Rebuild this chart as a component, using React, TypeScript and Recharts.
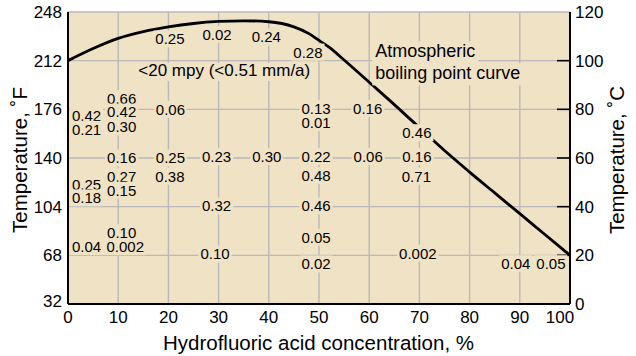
import React from "react";
import { ComposedChart, CartesianGrid, XAxis, YAxis, Line, Scatter } from "recharts";

const FONT = '"Liberation Sans", Arial, Helvetica, sans-serif';
const PLOT_BG = "#F0E2C5";
const GRID = "#B9B9B9";
const INK = "#000000";

// Axis ticks
const concentrationTicks = [0, 10, 20, 30, 40, 50, 60, 70, 80, 90, 100];
const fahrenheitTicks = [32, 68, 104, 140, 176, 212, 248];
const celsiusTicks = [0, 20, 40, 60, 80, 100, 120];

// Atmospheric boiling point curve: HF concentration (%) vs temperature (°F)
const boilingConc = [0, 5, 10, 15, 20, 25, 30, 35, 40, 45, 48, 50, 52, 55, 60, 65, 70, 75, 80, 85, 90, 95, 100];
const boilingTempF = [212, 221, 228.5, 233.5, 237, 239.5, 241, 241.5, 240.8, 237, 232, 227, 222, 212.5, 196, 179.5, 162.5, 145.5, 129.6, 114.2, 98.8, 83.4, 68];

// Corrosion rates (mm/a) at each test condition
const rateValues = [
  "0.25", "0.02", "0.24", "0.28",
  "0.42", "0.21", "0.66", "0.42", "0.30", "0.06", "0.13", "0.01", "0.16", "0.46",
  "0.16", "0.25", "0.23", "0.30", "0.22", "0.06", "0.16",
  "0.27", "0.38", "0.48", "0.71", "0.25", "0.18", "0.15",
  "0.32", "0.46", "0.05", "0.02", "0.10", "0.04", "0.002", "0.10", "0.002", "0.04", "0.05",
];
const rateConc = [
  20.3, 29.7, 39.5, 47.8,
  3.7, 3.7, 10.7, 10.7, 10.7, 20.4, 49.4, 49.4, 59.7, 69.5,
  10.7, 20.4, 29.6, 39.6, 49.4, 59.8, 69.5,
  10.7, 20.3, 49.4, 69.4, 3.7, 3.7, 10.7,
  29.6, 49.4, 49.4, 49.4, 10.7, 3.7, 11.4, 29.3, 69.7, 89.2, 96.2,
];
const rateTempF = [
  228, 231.5, 229.5, 218.3,
  171.5, 161.2, 184, 174, 163, 176, 176.5, 166.1, 176.5, 158.7,
  140, 140, 141, 141, 141, 141, 141,
  126.2, 126.5, 127, 126.4, 120.2, 110.5, 116.2,
  104.5, 104.5, 81.4, 61.6, 84.8, 74.4, 74.4, 69, 69.5, 61.8, 61.8,
];

// Region note and curve caption (left-aligned, placed at baseline)
const regionNote = "<20 mpy (<0.51 mm/a)";
const regionNoteConc = 14.0;
const regionNoteTempF = 200.7;
const curveNoteLines = ["Atmospheric", "boiling point curve"];
const curveNoteConc = 61.2;
const curveNoteTempF = [214.5, 198.2];

// Approximate Arial/Liberation Sans advance widths (per 1000 em)
const W: Record<string, number> = {
  "0": 556, "1": 556, "2": 556, "3": 556, "4": 556, "5": 556, "6": 556, "7": 556, "8": 556, "9": 556,
  ".": 278, " ": 278, "<": 584, "(": 333, ")": 333, "/": 278, ",": 278, "%": 889,
  a: 556, b: 556, c: 500, d: 556, e: 556, f: 278, g: 556, h: 556, i: 222, l: 222, m: 833, n: 556,
  o: 556, p: 556, r: 333, s: 500, t: 278, u: 556, v: 500, y: 500, A: 667,
};
const textWidth = (s: string, size: number) =>
  (s.split("").reduce((acc, ch) => acc + (W[ch] ?? 556), 0) / 1000) * size;

const RateLabel = (props: any) => {
  const { cx, cy, payload } = props;
  if (cx == null || cy == null) return null;
  const size = 15;
  const w = textWidth(payload.text, size);
  return (
    <g>
      <rect x={cx - w / 2 - 2} y={cy - 8.5} width={w + 4} height={17} fill={PLOT_BG} />
      <text x={cx} y={cy} dy="0.36em" textAnchor="middle" fontSize={size} fontFamily={FONT} fill={INK}>
        {payload.text}
      </text>
    </g>
  );
};

const RegionLabel = (props: any) => {
  const { cx, cy, payload } = props;
  if (cx == null || cy == null) return null;
  const size = 17;
  const w = textWidth(payload.text, size);
  return (
    <g>
      <rect x={cx - 3} y={cy - 13} width={w + 6} height={18} fill={PLOT_BG} />
      <text x={cx} y={cy} textAnchor="start" fontSize={size} fontFamily={FONT} fill={INK}>
        {payload.text}
      </text>
    </g>
  );
};

const CurveNoteLabel = (props: any) => {
  const { cx, cy, payload } = props;
  if (cx == null || cy == null) return null;
  const size = 18;
  const w = textWidth(payload.text, size);
  return (
    <g>
      <rect x={cx - 3} y={cy - 16} width={w + 6} height={22} fill={PLOT_BG} />
      <text x={cx} y={cy} textAnchor="start" fontSize={size} fontFamily={FONT} fill={INK}>
        {payload.text}
      </text>
    </g>
  );
};

// Short black tick marks pointing inward from the right (°C) axis
const InwardTick = (props: any) => {
  const { cx, cy } = props;
  if (cx == null || cy == null) return null;
  return <line x1={cx - 13} x2={cx} y1={cy} y2={cy} stroke={INK} strokeWidth={1.6} />;
};

const TICK_SIZE = 17;

const ConcTick = (props: any) => {
  const { x, y, payload } = props;
  const shift = payload.value === 100 ? -10 : 0;
  return (
    <text x={x + shift} y={y} dy="0.71em" textAnchor="middle" fontSize={TICK_SIZE} fontFamily={FONT} fill={INK}>
      {payload.value}
    </text>
  );
};

const FTick = (props: any) => {
  const { x, y, payload } = props;
  const shift = payload.value === 32 ? -3.5 : 0;
  return (
    <text x={x} y={y + shift} dy="0.355em" textAnchor="end" fontSize={TICK_SIZE} fontFamily={FONT} fill={INK}>
      {payload.value}
    </text>
  );
};

const CTick = (props: any) => {
  const { x, y, payload } = props;
  return (
    <text x={x} y={y} dy="0.355em" textAnchor="start" fontSize={TICK_SIZE} fontFamily={FONT} fill={INK}>
      {payload.value}
    </text>
  );
};

const XTitle = () => (
  <text x={318.5} y={350} textAnchor="middle" fontSize={20.5} fontFamily={FONT} fill={INK}>
    Hydrofluoric acid concentration, %
  </text>
);

const LeftTitle = () => (
  <text x={20} y={160} dy="0.355em" transform="rotate(-90 20 160)" textAnchor="middle" fontSize={20.5} fontFamily={FONT} fill={INK}>
    Temperature, ˚F
  </text>
);

const RightTitle = () => (
  <text x={617} y={160} dy="0.355em" transform="rotate(-90 617 160)" textAnchor="middle" fontSize={20.5} fontFamily={FONT} fill={INK}>
    Temperature, ˚C
  </text>
);

export default function App() {
  const boilingData = boilingConc.map((x, i) => ({ x, y: boilingTempF[i] }));
  const rateData = rateValues.map((text, i) => ({ x: rateConc[i], y: rateTempF[i], text }));
  const regionData = [{ x: regionNoteConc, y: regionNoteTempF, text: regionNote }];
  const curveNoteData = curveNoteLines.map((text, i) => ({ x: curveNoteConc, y: curveNoteTempF[i], text }));
  const xMax = concentrationTicks[concentrationTicks.length - 1];
  const celsiusTickMarks = celsiusTicks.slice(1, -1).map((c) => ({ x: xMax, y: c }));

  return (
    <div style={{ position: "absolute", left: 0, top: 0, width: 636, height: 356, background: "#ffffff" }}>
      <ComposedChart
        width={636}
        height={356}
        margin={{ top: 12, right: 0, bottom: 0, left: 0 }}
        style={{ fontFamily: FONT }}
      >
        <CartesianGrid yAxisId="F" stroke={GRID} strokeWidth={1.4} fill={PLOT_BG} fillOpacity={1} />
        <XAxis
          dataKey="x"
          type="number"
          domain={[0, 100]}
          allowDataOverflow
          ticks={concentrationTicks}
          interval={0}
          height={52}
          tickSize={5}
          tickMargin={2}
          tickLine={false}
          axisLine={{ stroke: INK, strokeWidth: 2 }}
          tick={(p: any) => <ConcTick {...p} />}
          label={{ content: () => <XTitle /> }}
        />
        <YAxis
          yAxisId="F"
          type="number"
          domain={[32, 248]}
          allowDataOverflow
          ticks={fahrenheitTicks}
          interval={0}
          width={68}
          tickSize={4}
          tickMargin={2}
          tickLine={false}
          axisLine={{ stroke: INK, strokeWidth: 2 }}
          tick={(p: any) => <FTick {...p} />}
          label={{ content: () => <LeftTitle /> }}
        />
        <YAxis
          yAxisId="C"
          orientation="right"
          type="number"
          domain={[0, 120]}
          allowDataOverflow
          ticks={celsiusTicks}
          interval={0}
          width={66}
          tickSize={3}
          tickMargin={2}
          tickLine={false}
          axisLine={{ stroke: INK, strokeWidth: 2 }}
          tick={(p: any) => <CTick {...p} />}
          label={{ content: () => <RightTitle /> }}
        />
        <Line
          yAxisId="F"
          data={boilingData}
          dataKey="y"
          type="monotone"
          stroke={INK}
          strokeWidth={2.8}
          dot={false}
          activeDot={false}
          isAnimationActive={false}
        />
        <Scatter yAxisId="C" data={celsiusTickMarks} dataKey="y" shape={InwardTick} isAnimationActive={false} />
        <Scatter yAxisId="F" data={curveNoteData} dataKey="y" shape={CurveNoteLabel} isAnimationActive={false} />
        <Scatter yAxisId="F" data={regionData} dataKey="y" shape={RegionLabel} isAnimationActive={false} />
        <Scatter yAxisId="F" data={rateData} dataKey="y" shape={RateLabel} isAnimationActive={false} />
      </ComposedChart>
    </div>
  );
}
